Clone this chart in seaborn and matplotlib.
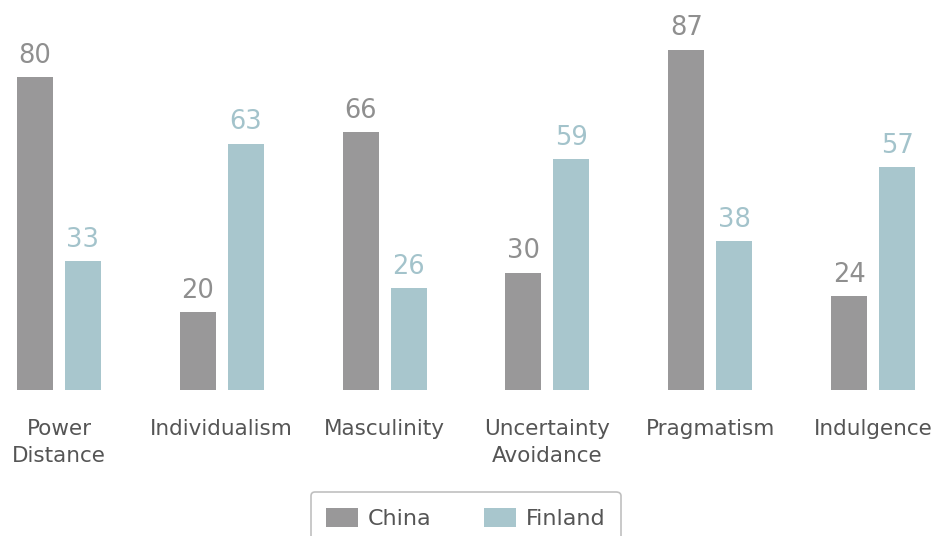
import pandas as pd
import seaborn as sns
import matplotlib.pyplot as plt

# Hofstede dimensions, China vs Finland
dimensions = ["Power\nDistance", "Individualism", "Masculinity",
              "Uncertainty\nAvoidance", "Pragmatism", "Indulgence"]
china = [80, 20, 66, 30, 87, 24]
finland = [33, 63, 26, 59, 38, 57]

df = pd.DataFrame({
    "dimension": dimensions * 2,
    "country": ["China"] * len(dimensions) + ["Finland"] * len(dimensions),
    "score": china + finland,
})

bar_colors = {"China": "#999899", "Finland": "#a8c6cd"}
label_colors = {"China": "#8f8f8f", "Finland": "#a3c3cb"}

sns.set_theme(style="white")
plt.rcParams["font.family"] = ["DejaVu Sans"]

fig = plt.figure(figsize=(9.41, 5.36), dpi=100)
ax = fig.add_axes([0, 0.272, 1, 0.728])

sns.barplot(data=df, x="dimension", y="score", hue="country",
            palette=bar_colors, width=0.59, gap=0.25, saturation=1,
            linewidth=0, ax=ax)

for cont, name in zip(ax.containers, ["China", "Finland"]):
    ax.bar_label(cont, padding=6, fontsize=18.5, color=label_colors[name])

ax.set_xlim(-0.362, 5.417)
ax.set_ylim(0, 99.7)
ax.set_xlabel("")
ax.set_ylabel("")
ax.set_yticks([])
ax.tick_params(axis="x", length=0, pad=21, labelsize=15.5, labelcolor="#555555")
for lbl in ax.get_xticklabels():
    lbl.set_linespacing(1.42)
sns.despine(ax=ax, left=True, bottom=True)

ax.get_legend().remove()
handles, labels = ax.get_legend_handles_labels()
leg = fig.legend(handles, labels, loc="upper center",
                 bbox_to_anchor=(0.495, 1 - 492 / 536), ncol=2, frameon=True,
                 fontsize=16, handlelength=1.4, handleheight=0.95,
                 handletextpad=0.45, columnspacing=2.4, borderpad=0.7,
                 borderaxespad=0, fancybox=True)
leg.get_frame().set_edgecolor("#b0b0b0")
leg.get_frame().set_linewidth(1.2)
for t in leg.get_texts():
    t.set_color("#555555")

fig.savefig("out.png", dpi=100)
